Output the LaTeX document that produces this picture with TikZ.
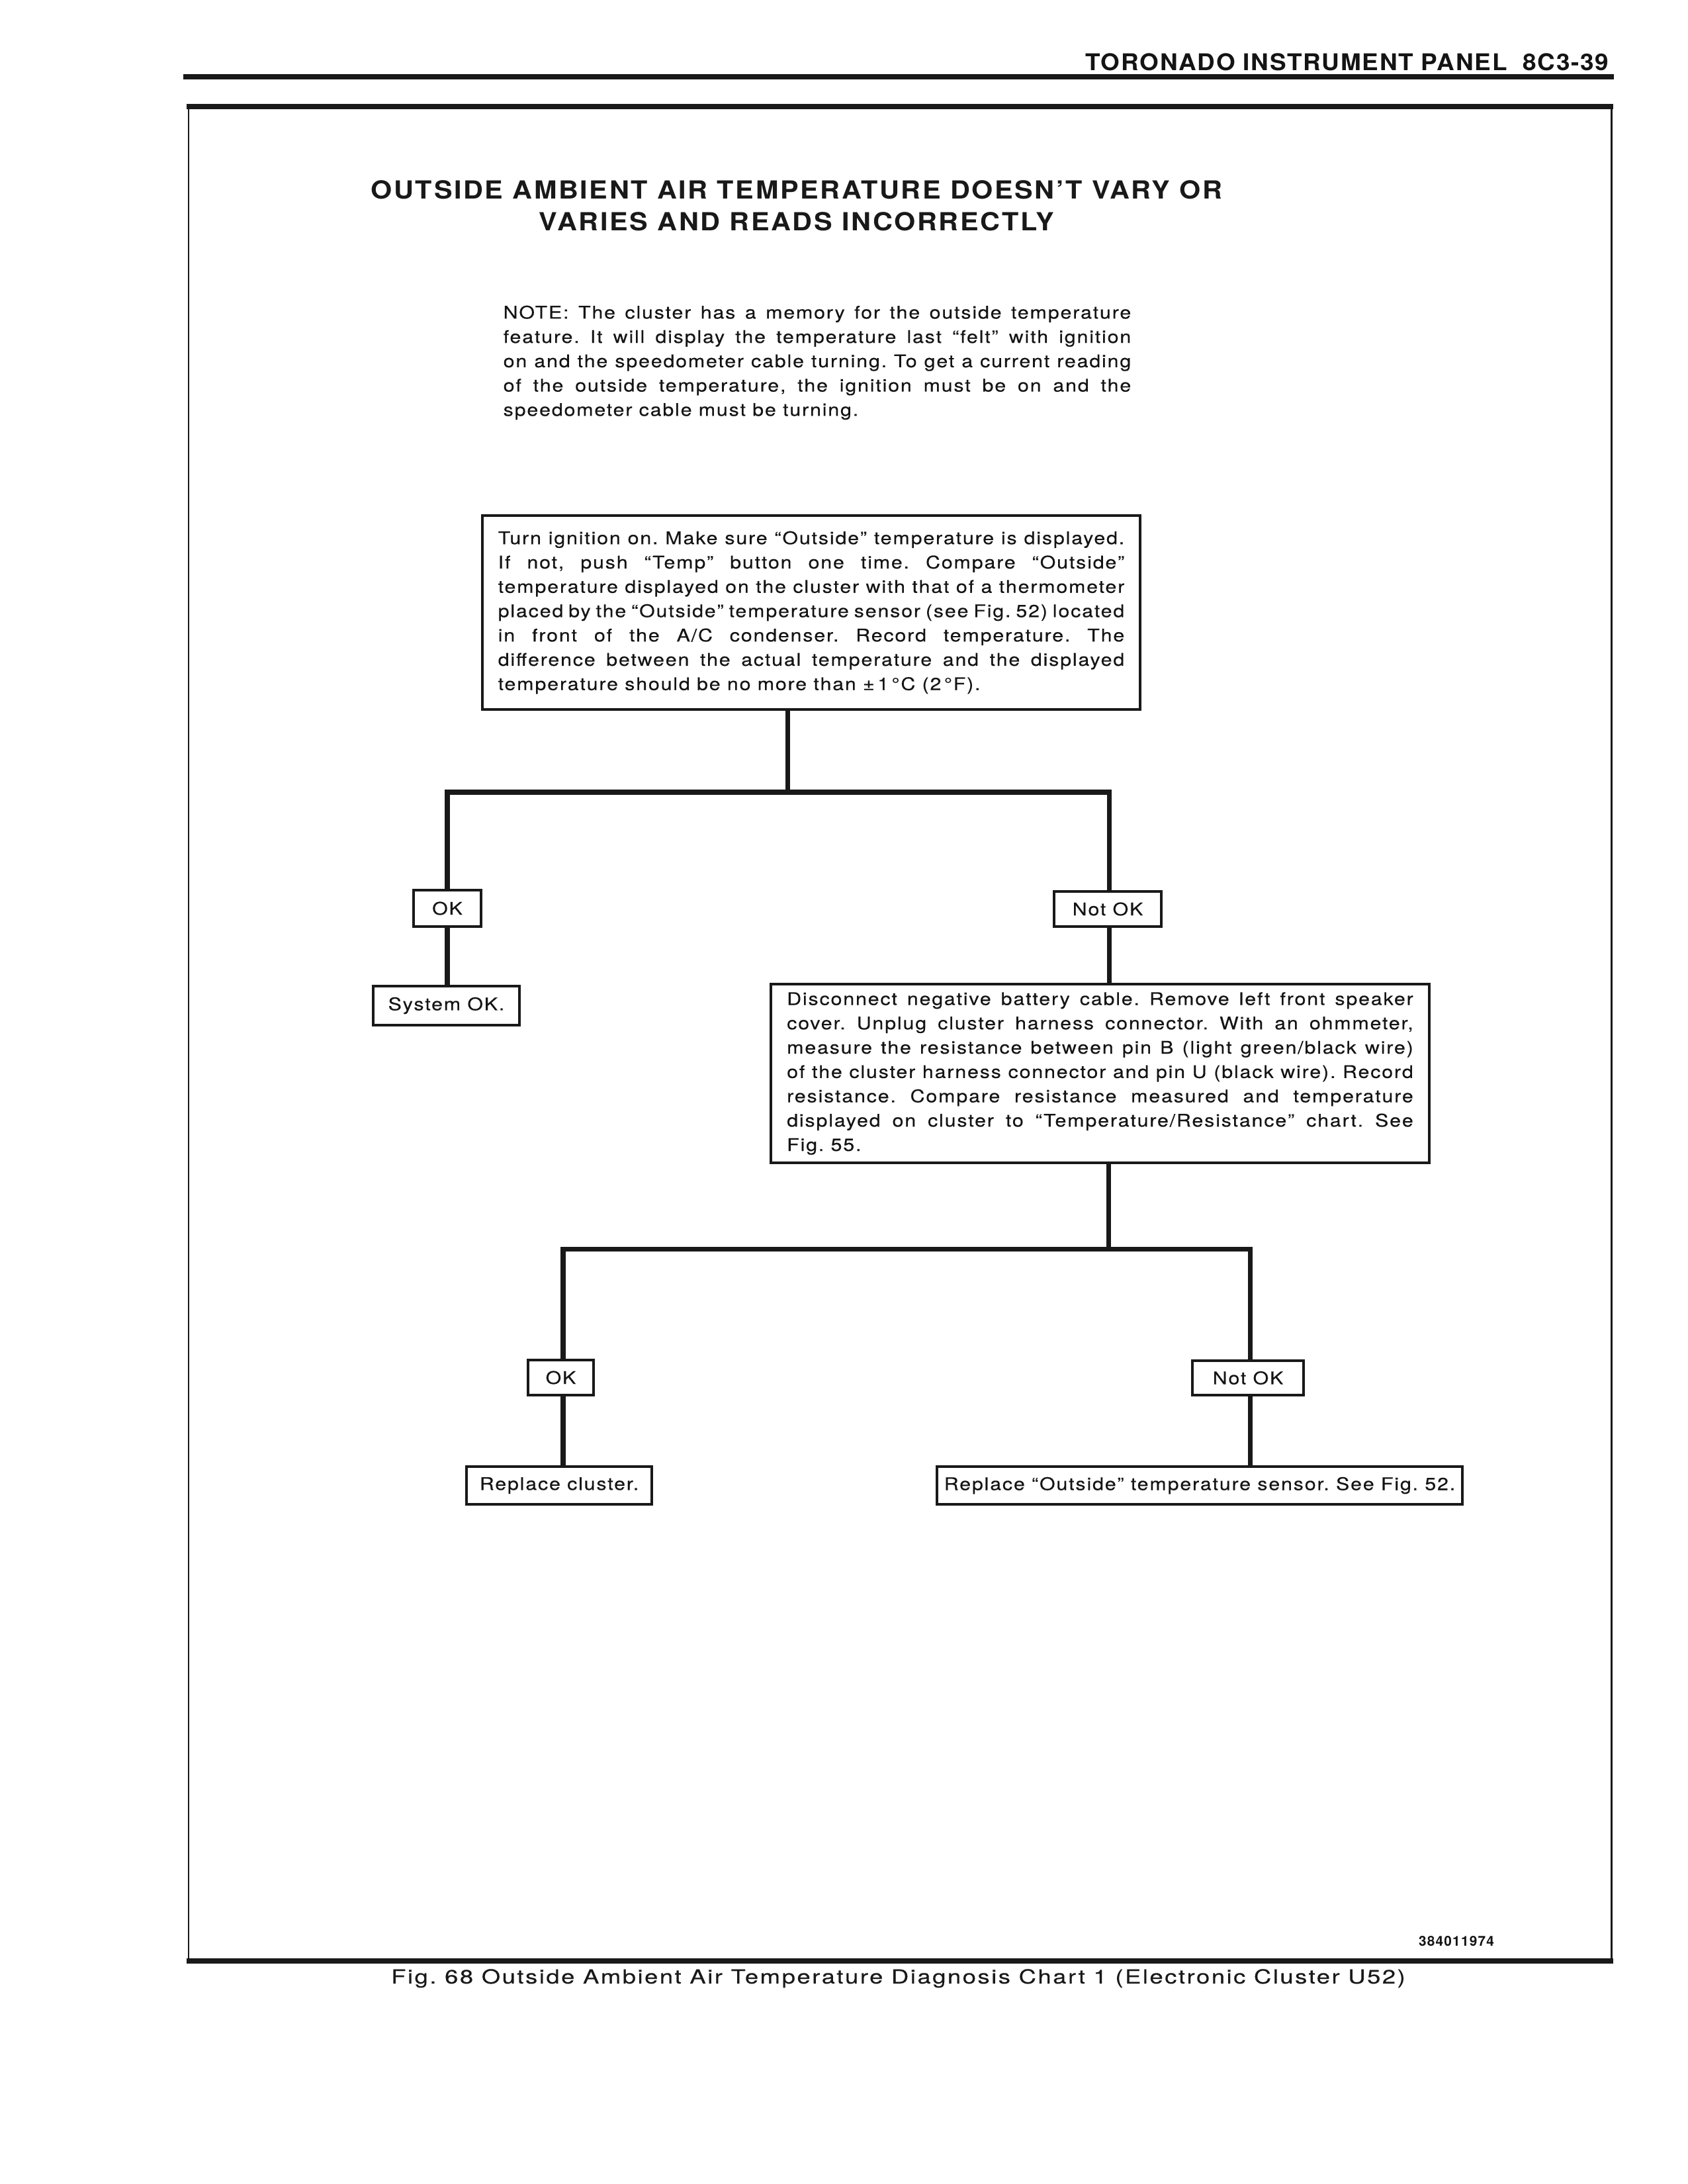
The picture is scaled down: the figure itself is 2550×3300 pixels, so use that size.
\documentclass[tikz,border=0pt]{standalone}
\usepackage{fontspec}
\setmainfont{TeX Gyre Heros}
\newfontfamily\bodyfont[FakeStretch=1.15,LetterSpace=7,FakeBold=0.3]{TeX Gyre Heros}
\newfontfamily\titlefont[FakeStretch=1.1,LetterSpace=7]{TeX Gyre Heros}
\newfontfamily\capfont[FakeStretch=1.25,LetterSpace=8.5,FakeBold=0.3]{TeX Gyre Heros}
\newfontfamily\headfont[FakeStretch=1.06,LetterSpace=5]{TeX Gyre Heros}
\newfontfamily\codefont[LetterSpace=6]{TeX Gyre Heros}
\begin{document}
\begin{tikzpicture}[x=0.01cm,y=-0.01cm,
  inkcol/.style={draw=black!90},
  boxtext/.style={font=\bodyfont\fontsize{7.5}{10.45}\selectfont},
  chartbox/.style={inkcol,line width=1.05pt,rectangle,inner sep=0pt,boxtext,text=black!92},
  bigbox/.style={chartbox,text width=9.46cm,align=justify},
  conn/.style={inkcol,line width=2pt,line join=miter,line cap=rect},
  thickrule/.style={inkcol,line width=2.1pt},
  thinrule/.style={inkcol,line width=0.85pt}]
\useasboundingbox[fill=white] (0,0) rectangle (2550,3300);
\tolerance=10000 \hyphenpenalty=10000 \frenchspacing

% header
\node[anchor=base east,inner sep=0pt,font=\headfont\bfseries\fontsize{9.9}{12}\selectfont,text=black!92] (head) at (2432,107) {TORONADO INSTRUMENT PANEL\ \ 8C3-39};
\draw[inkcol,line width=2.3pt] (277,116) -- (2439,116);

% frame
\draw[thickrule] (282,161) -- (2438,161);
\draw[thickrule] (282,2963) -- (2438,2963);
\draw[thinrule] (285,161) -- (285,2963);
\draw[thinrule] (2435,161) -- (2435,2963);

% title
\node[anchor=base,inner sep=0pt,font=\titlefont\bfseries\fontsize{10.7}{13}\selectfont,text=black!90] (title1) at (1204,300) {OUTSIDE AMBIENT AIR TEMPERATURE DOESN’T VARY OR};
\node[anchor=base,inner sep=0pt,font=\titlefont\bfseries\fontsize{10.7}{13}\selectfont,text=black!90] (title2) at (1204,348) {VARIES AND READS INCORRECTLY};

% note
\node[anchor=north west,inner sep=0pt,boxtext,text width=9.48cm,align=justify,text=black!92] (note) at (760,461) {NOTE: The cluster has a memory for the outside temperature\linebreak
feature. It will display the temperature last “felt” with ignition\linebreak
on and the speedometer cable turning. To get a current reading\linebreak
of the outside temperature, the ignition must be on and the\linebreak
speedometer cable must be turning.};

% box 1
\node[bigbox,minimum width=9.94cm,minimum height=2.93cm] (box1) at (1226,925.5) {Turn ignition on. Make sure “Outside” temperature is displayed.\linebreak
If not, push “Temp” button one time. Compare “Outside”\linebreak
temperature displayed on the cluster with that of a thermometer\linebreak
placed by the “Outside” temperature sensor (see Fig. 52) located\linebreak
in front of the A/C condenser. Record temperature. The\linebreak
difference between the actual temperature and the displayed\linebreak
temperature should be no more than ±\,1\,°C (2\,°F).};

% level 1
\node[chartbox,minimum width=1.02cm,minimum height=0.55cm] (ok1) at (676,1372.5) {OK};
\node[chartbox,minimum width=1.62cm,minimum height=0.53cm] (nok1) at (1674,1373.5) {Not OK};
\node[chartbox,minimum width=2.21cm,minimum height=0.59cm] (sys) at (674.5,1519.5) {System OK.};

% box 2
\node[bigbox,minimum width=9.95cm,minimum height=2.70cm] (box2) at (1662.5,1622) {Disconnect negative battery cable. Remove left front speaker\linebreak
cover. Unplug cluster harness connector. With an ohmmeter,\linebreak
measure the resistance between pin B (light green/black wire)\linebreak
of the cluster harness connector and pin U (black wire). Record\linebreak
resistance. Compare resistance measured and temperature\linebreak
displayed on cluster to “Temperature/Resistance” chart. See\linebreak
Fig. 55.};

% level 2
\node[chartbox,minimum width=0.99cm,minimum height=0.53cm] (ok2) at (847.5,2081.5) {OK};
\node[chartbox,minimum width=1.68cm,minimum height=0.52cm] (nok2) at (1886,2082) {Not OK};
\node[chartbox,minimum width=2.80cm,minimum height=0.57cm] (rc) at (845,2244.5) {Replace cluster.};
\node[chartbox,minimum width=7.94cm,minimum height=0.57cm] (rs) at (1813,2244.5) {Replace “Outside” temperature sensor. See Fig. 52.};

% connectors level 1
\coordinate (J1) at (1190,1197);
\coordinate (L1) at (676,1197);
\coordinate (R1) at (1676,1197);
\draw[conn] (box1.south -| J1) -- (J1);
\draw[conn] (L1 |- ok1.north) -- (L1) -- (R1) -- (R1 |- nok1.north);
\draw[conn] (L1 |- ok1.south) -- (L1 |- sys.north);
\draw[conn] (R1 |- nok1.south) -- (R1 |- box2.north);

% connectors level 2
\coordinate (J2) at (1675,1887);
\coordinate (L2) at (851,1887);
\coordinate (R2) at (1889,1887);
\draw[conn] (box2.south -| J2) -- (J2);
\draw[conn] (L2 |- ok2.north) -- (L2) -- (R2) -- (R2 |- nok2.north);
\draw[conn] (L2 |- ok2.south) -- (L2 |- rc.north);
\draw[conn] (R2 |- nok2.south) -- (R2 |- rs.north);

% code and caption
\node[anchor=base,inner sep=0pt,font=\codefont\bfseries\fontsize{5.9}{7}\selectfont,text=black!92] (code) at (2201,2940) {384011974};
\node[anchor=base,inner sep=0pt,font=\capfont\fontsize{8.3}{10}\selectfont,text=black!90] (caption) at (1357.5,2997) {Fig. 68 Outside Ambient Air Temperature Diagnosis Chart 1 (Electronic Cluster U52)};
\end{tikzpicture}
\end{document}
